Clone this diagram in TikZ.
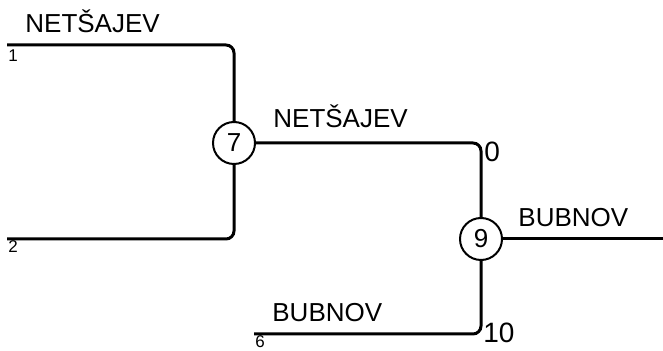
\documentclass[tikz,border=0pt]{standalone}
\usepackage{fontspec}
\setmainfont{Liberation Sans}
\usetikzlibrary{positioning}

\tikzset{
	wire/.style={line width=1.5pt,rounded corners=4pt},
	matchbox/.style={draw,circle,line width=1pt,minimum size=21pt,inner sep=0pt,font=\fontsize{13}{15}\selectfont},
	player/.style={anchor=base west,inner sep=0pt,font=\fontsize{13}{15}\selectfont},
	score/.style={anchor=base west,inner sep=0pt,font=\fontsize{14}{16}\selectfont},
	seednum/.style={anchor=base west,inner sep=0pt,font=\fontsize{8.5}{10}\selectfont},
}

\begin{document}
\begin{tikzpicture}[x=0.5pt,y=-0.5pt]
\useasboundingbox (0,0) rectangle (663,351);
	\node[matchbox] (m7) at (234,143) {7};
	\node[matchbox] (m9) at (481,239) {9};
	\coordinate (p1) at (7,45);
	\coordinate (p2) at (7,239);
	\coordinate (p6) at (254,334);
	\coordinate (win) at (663,239);
	% connectors
	\draw[wire] (p1) -| (m7);
	\draw[wire] (p2) -| (m7);
	\draw[wire] (m7) -| (m9);
	\draw[wire] (p6) -| (m9);
	\draw[wire] (m9) -- (win);
	% names and numbers
	\node[player] (n1) at (25,33) {NETŠAJEV};
	\node[player] (n7) at (273,128) {NETŠAJEV};
	\node[player] (n9) at (518,227) {BUBNOV};
	\node[player] (n6) at (272,322) {BUBNOV};
	\node[seednum] (s1) at (8,62) {1};
	\node[seednum] (s2) at (8,253) {2};
	\node[seednum] (s6) at (255,348) {6};
	\node[score] (s0) at (484,162) {0};
	\node[score] (s10) at (483,343) {10};
\end{tikzpicture}
\end{document}
